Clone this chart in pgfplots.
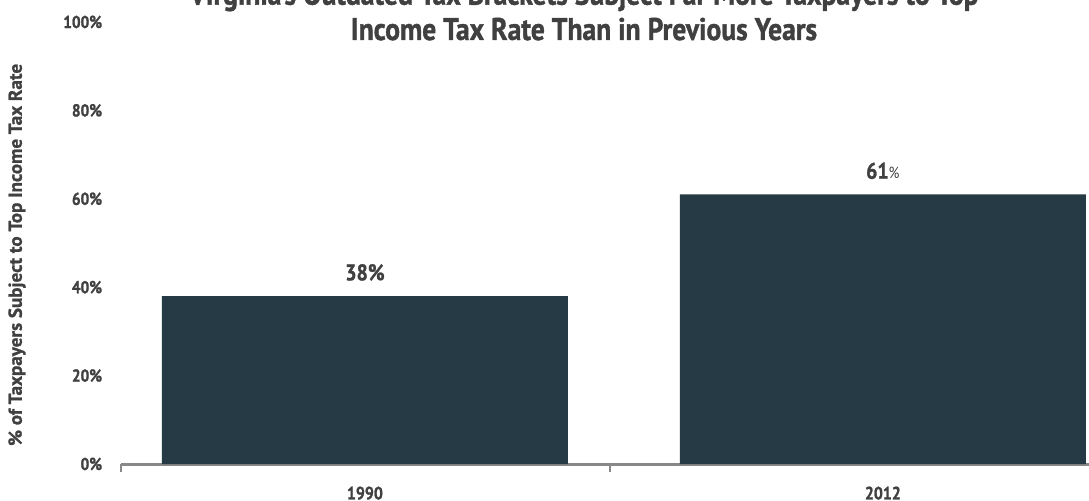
\documentclass[border=0pt]{standalone}
\usepackage{pgfplots}
\pgfplotsset{compat=1.18}
\usepackage{fontspec}
\setmainfont{PT Sans}[FakeStretch=0.88, BoldFeatures={FakeBold=1.2}]
\newfontfamily\ylabfont{PT Sans}[FakeStretch=1.02, BoldFeatures={FakeBold=1.2}]
\definecolor{barc}{HTML}{253A44}
\definecolor{txt}{HTML}{404040}
\definecolor{axc}{HTML}{888888}
\begin{document}
\begin{tikzpicture}
\begin{axis}[
  at={(0,0)}, anchor=south west,
  scale only axis, width=726pt, height=331.5pt,
  xmin=-0.471, xmax=1.398, ymin=0, ymax=100,
  axis x line*=bottom, axis y line*=left,
  y axis line style={draw=none},
  x axis line style={draw=axc, line width=2.25pt},
  ytick={0,20,40,60,80,100},
  yticklabels={0\%,20\%,40\%,60\%,80\%,100\%},
  ytick style={draw=none},
  yticklabel style={anchor=east, inner sep=0pt, xshift=-14pt, font=\bfseries\fontsize{13}{13}\selectfont, text=txt},
  xtick={0,1}, xticklabels={1990,2012},
  xtick style={draw=none},
  xticklabel style={anchor=north, inner sep=0pt, yshift=-12.5pt, font=\bfseries\fontsize{13.5}{13.5}\selectfont, text=txt},
  extra x ticks={-0.471,0.473}, extra x tick labels={},
  extra x tick style={xtick style={draw=axc, line width=1.5pt}, major tick length=6pt, tick align=outside},
  ybar, bar width=304.5pt,
  point meta=explicit symbolic,
  nodes near coords,
  nodes near coords style={anchor=south, yshift=8pt, text=txt, font=\bfseries\fontsize{17}{17}\selectfont},
  every axis y label/.style={at={(axis description cs:-0.1074,0.473)}, rotate=90, anchor=center},
  ylabel={\ylabfont\bfseries\fontsize{14}{14}\selectfont\color{txt}\% of Taxpayers Subject to Top Income Tax Rate},
  clip=false,
]
\addplot[fill=barc, draw=none] coordinates {(0,38) [38\%] (1,61) [61{\mdseries\fontsize{12}{12}\selectfont\%}]};
\end{axis}
\node[text=txt, font=\bfseries\fontsize{23.5}{23.5}\selectfont, anchor=base] at (347.25pt,318pt) {Income Tax Rate Than in Previous Years};
\node[text=txt, font=\bfseries\fontsize{23.5}{23.5}\selectfont, anchor=base] at (347.25pt,344.5pt) {Virginia's Outdated Tax Brackets Subject Far More Taxpayers to Top};
\pgfresetboundingbox
\path (-90.75pt,-27pt) rectangle (726pt,348pt);
\end{tikzpicture}
\end{document}
